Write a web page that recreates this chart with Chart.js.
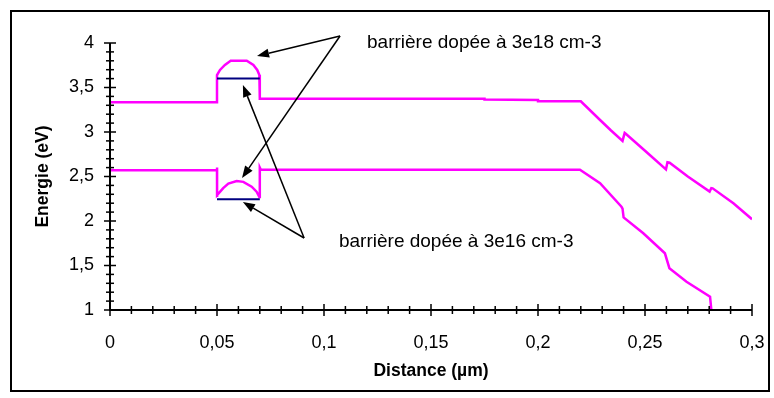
<!DOCTYPE html>
<html>
<head>
<meta charset="utf-8">
<script src="https://cdn.jsdelivr.net/npm/chart.js@4.4.0/dist/chart.umd.min.js"></script>
<style>
  html, body { margin: 0; padding: 0; background: #fff; }
  #wrap { position: relative; width: 774px; height: 398px; }
</style>
</head>
<body>
<div id="wrap"><canvas id="energie"></canvas></div>
<script>
// bande du haut (eV) en fonction de la distance (µm)
var hautX = [0, 0.05, 0.05, 0.0514, 0.0537, 0.0564, 0.0639, 0.067, 0.0688, 0.0698, 0.07, 0.07,
  0.175, 0.175, 0.2, 0.2, 0.22, 0.229, 0.234, 0.2395, 0.2405, 0.241, 0.25, 0.2598, 0.2605, 0.2615,
  0.27, 0.2802, 0.281, 0.2816, 0.2913, 0.3]
var hautE = [3.335, 3.335, 3.64, 3.697, 3.753, 3.80, 3.80, 3.753, 3.697, 3.64, 3.64, 3.375,
  3.375, 3.365, 3.36, 3.345, 3.345, 3.135, 3.02, 2.90, 2.99, 2.98, 2.79, 2.58, 2.66, 2.655,
  2.50, 2.33, 2.37, 2.367, 2.20, 2.02]

// bande du bas
var basX = [0, 0.05, 0.05, 0.05, 0.0501, 0.0529, 0.0553, 0.0592, 0.0623, 0.0662, 0.0685, 0.0698,
  0.07, 0.07, 0.0705, 0.2196, 0.229, 0.239, 0.2395, 0.240, 0.2492, 0.2593, 0.2614, 0.2694, 0.2804, 0.281]
var basE = [2.57, 2.57, 2.60, 2.27, 2.29, 2.37, 2.42, 2.45, 2.44, 2.385, 2.33, 2.27,
  2.27, 2.60, 2.575, 2.575, 2.424, 2.16, 2.14, 2.04, 1.862, 1.637, 1.47, 1.318, 1.15, 1.0]

// niveaux dans les barrières dopées
var dopeX = [0.05, 0.07]
var dopeHaut = [3.60, 3.60]
var dopeBas = [2.245, 2.245]

// graduations
var xLabels = [0, 0.05, 0.1, 0.15, 0.2, 0.25, 0.3]
var yLabels = [1, 1.5, 2, 2.5, 3, 3.5, 4]
var xPas = 0.01
var yPas = 0.1

// textes et flèches (coordonnées des données)
var notes = [
  {texte: 'barrière dopée à 3e18 cm-3', x: 0.1201, y: 4.0, depart: [0.1075, 4.079], cibles: [[0.0687, 3.854], [0.0617, 2.483]]},
  {texte: 'barrière dopée à 3e16 cm-3', x: 0.107, y: 1.77, depart: [0.0907, 1.809], cibles: [[0.0621, 3.528], [0.0621, 2.213]]}
]

function pts(xs, ys) {
  return xs.map(function (x, i) { return {x: x, y: ys[i]} })
}
function virgule(v) {
  return String(parseFloat(v.toFixed(2))).replace('.', ',')
}
function estLabel(v, liste) {
  return liste.some(function (l) { return Math.abs(l - v) < 1e-6 })
}
function graduations(min, max, pas) {
  var t = []
  var n = Math.round((max - min) / pas)
  for (var i = 0; i <= n; i++) t.push({value: parseFloat((min + i * pas).toFixed(3))})
  return t
}

function fleche(ctx, x0, y0, x1, y1) {
  var ang = Math.atan2(y1 - y0, x1 - x0)
  var L = 12, W = 4.5
  var bx = x1 - L * Math.cos(ang), by = y1 - L * Math.sin(ang)
  ctx.beginPath()
  ctx.moveTo(x0, y0)
  ctx.lineTo(bx, by)
  ctx.stroke()
  ctx.beginPath()
  ctx.moveTo(x1, y1)
  ctx.lineTo(bx + W * Math.sin(ang), by - W * Math.cos(ang))
  ctx.lineTo(bx - W * Math.sin(ang), by + W * Math.cos(ang))
  ctx.closePath()
  ctx.fill()
}

var cadre = {
  id: 'cadre',
  afterDraw: function (chart) {
    var ctx = chart.ctx, a = chart.chartArea
    var sx = chart.scales.x, sy = chart.scales.y
    ctx.save()
    ctx.strokeStyle = '#000'
    ctx.fillStyle = '#000'
    ctx.lineWidth = 2
    ctx.strokeRect(11, 11, 758, 380)

    // axes
    ctx.beginPath()
    ctx.moveTo(a.left, a.top)
    ctx.lineTo(a.left, a.bottom)
    ctx.lineTo(a.right, a.bottom)
    ctx.stroke()

    ctx.lineWidth = 1.5
    sx.ticks.forEach(function (t) {
      var p = sx.getPixelForValue(t.value)
      var d = estLabel(t.value, xLabels) ? 6 : 4
      ctx.beginPath()
      ctx.moveTo(p, a.bottom - d)
      ctx.lineTo(p, a.bottom + d)
      ctx.stroke()
    })
    sy.ticks.forEach(function (t) {
      var p = sy.getPixelForValue(t.value)
      var d = estLabel(t.value, yLabels) ? 6 : 4
      ctx.beginPath()
      ctx.moveTo(a.left - d, p)
      ctx.lineTo(a.left + d, p)
      ctx.stroke()
    })

    // annotations
    ctx.font = '19px "Liberation Sans", Arial, sans-serif'
    ctx.textBaseline = 'middle'
    ctx.textAlign = 'left'
    ctx.lineWidth = 1.5
    notes.forEach(function (n) {
      ctx.fillText(n.texte, sx.getPixelForValue(n.x), sy.getPixelForValue(n.y))
      var x0 = sx.getPixelForValue(n.depart[0]), y0 = sy.getPixelForValue(n.depart[1])
      n.cibles.forEach(function (c) {
        fleche(ctx, x0, y0, sx.getPixelForValue(c[0]), sy.getPixelForValue(c[1]))
      })
    })
    ctx.restore()
  }
}

Chart.defaults.font.family = '"Liberation Sans", Arial, sans-serif'
Chart.defaults.font.size = 18
Chart.defaults.color = '#000'

new Chart('energie', {
  type: 'scatter',
  data: {
    datasets: [
      {data: pts(dopeX, dopeHaut), borderColor: '#000080', borderWidth: 2, showLine: true, pointRadius: 0},
      {data: pts(dopeX, dopeBas), borderColor: '#000080', borderWidth: 2, showLine: true, pointRadius: 0},
      {data: pts(hautX, hautE), borderColor: '#FF00FF', borderWidth: 2.5, showLine: true, pointRadius: 0, tension: 0},
      {data: pts(basX, basE), borderColor: '#FF00FF', borderWidth: 2.5, showLine: true, pointRadius: 0, tension: 0}
    ]
  },
  options: {
    responsive: true,
    maintainAspectRatio: false,
    animation: false,
    events: [],
    layout: {padding: {left: 10, right: 22, top: 43, bottom: 10}},
    plugins: {legend: {display: false}, tooltip: {enabled: false}},
    scales: {
      x: {
        type: 'linear',
        min: 0,
        max: 0.3,
        afterBuildTicks: function (s) { s.ticks = graduations(0, 0.3, xPas) },
        afterFit: function (s) { s.height = 78; s.paddingLeft = 0; s.paddingRight = 0 },
        grid: {display: false, drawTicks: false},
        border: {display: false},
        ticks: {
          autoSkip: false,
          maxRotation: 0,
          padding: 22,
          callback: function (v) { return estLabel(v, xLabels) ? virgule(v) : '' }
        },
        title: {display: true, text: 'Distance (µm)', font: {weight: 'bold', size: 17.5}, padding: {top: 0, bottom: 6}}
      },
      y: {
        min: 1,
        max: 4,
        afterBuildTicks: function (s) { s.ticks = graduations(1, 4, yPas) },
        afterFit: function (s) { s.width = 100; s.paddingTop = 0; s.paddingBottom = 0 },
        grid: {display: false, drawTicks: false},
        border: {display: false},
        ticks: {
          autoSkip: false,
          padding: 16,
          callback: function (v) { return estLabel(v, yLabels) ? virgule(v) : '' }
        },
        title: {display: true, text: 'Energie (eV)', font: {weight: 'bold', size: 17.5}, padding: {top: 23, bottom: 0}}
      }
    }
  },
  plugins: [cadre]
})
</script>
</body>
</html>
